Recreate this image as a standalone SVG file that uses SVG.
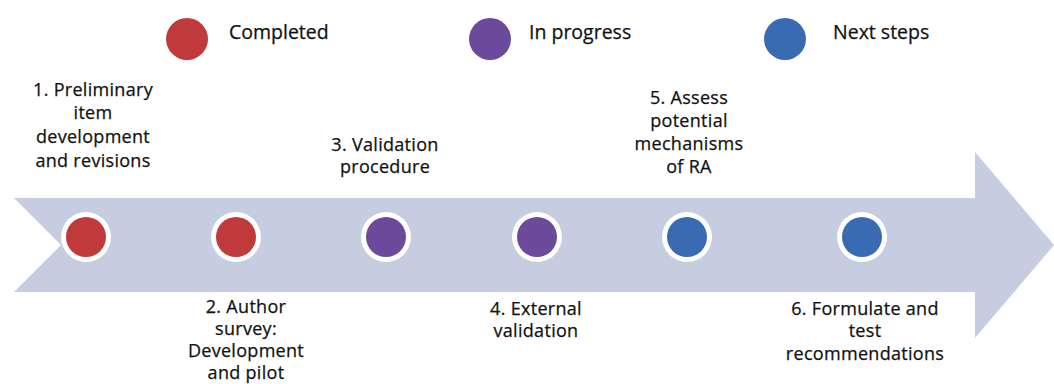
<svg xmlns="http://www.w3.org/2000/svg" width="1054" height="384" viewBox="0 0 1054 384">
  <style>
    .lbl { font-family: "Open Sans", "Liberation Sans", sans-serif; font-size: 18px; letter-spacing: 0.3px; fill: #111111; stroke: #111111; stroke-width: 0.25; text-anchor: middle; }
    .leg { font-family: "Open Sans", "Liberation Sans", sans-serif; font-size: 19.5px; fill: #111111; stroke: #111111; stroke-width: 0.25; }
    .ring { fill: #ffffff; }
    .done { fill: #c0393b; }
    .prog { fill: #6b4a9b; }
    .next { fill: #396bb3; }
  </style>
  <rect width="1054" height="384" fill="#ffffff"/>

  <!-- timeline arrow -->
  <g id="timeline">
    <path d="M14,198 L975,198 L975,152 L1054,245 L975,338 L975,292 L14,292 L61,245 Z" fill="#c7cde1"/>
  </g>

  <!-- legend -->
  <g id="legend">
    <g id="legend-completed">
      <circle class="done" cx="187" cy="39" r="21"/>
      <text class="leg" x="229" y="39">Completed</text>
    </g>
    <g id="legend-progress">
      <circle class="prog" cx="490" cy="39" r="21"/>
      <text class="leg" x="529" y="39">In progress</text>
    </g>
    <g id="legend-next">
      <circle class="next" cx="785" cy="39" r="21"/>
      <text class="leg" x="833" y="39">Next steps</text>
    </g>
  </g>

  <!-- milestones -->
  <g id="step1">
    <circle class="ring" cx="86" cy="237" r="25"/>
    <circle class="done" cx="86" cy="237" r="20"/>
    <text class="lbl" x="93" y="96">1. Preliminary</text>
    <text class="lbl" x="93" y="119">item</text>
    <text class="lbl" x="93" y="143">development</text>
    <text class="lbl" x="93" y="167">and revisions</text>
  </g>
  <g id="step2">
    <circle class="ring" cx="236" cy="237" r="25"/>
    <circle class="done" cx="236" cy="237" r="20"/>
    <text class="lbl" x="246" y="313">2. Author</text>
    <text class="lbl" x="246" y="335">survey:</text>
    <text class="lbl" x="246" y="357">Development</text>
    <text class="lbl" x="246" y="379">and pilot</text>
  </g>
  <g id="step3">
    <circle class="ring" cx="386" cy="237" r="25"/>
    <circle class="prog" cx="386" cy="237" r="20"/>
    <text class="lbl" x="385" y="151">3. Validation</text>
    <text class="lbl" x="385" y="173">procedure</text>
  </g>
  <g id="step4">
    <circle class="ring" cx="537" cy="237" r="25"/>
    <circle class="prog" cx="537" cy="237" r="20"/>
    <text class="lbl" x="536" y="315">4. External</text>
    <text class="lbl" x="536" y="337">validation</text>
  </g>
  <g id="step5">
    <circle class="ring" cx="687" cy="237" r="25"/>
    <circle class="next" cx="687" cy="237" r="20"/>
    <text class="lbl" x="689" y="104">5. Assess</text>
    <text class="lbl" x="689" y="127">potential</text>
    <text class="lbl" x="689" y="150">mechanisms</text>
    <text class="lbl" x="689" y="173">of RA</text>
  </g>
  <g id="step6">
    <circle class="ring" cx="862" cy="237" r="25"/>
    <circle class="next" cx="862" cy="237" r="20"/>
    <text class="lbl" x="865" y="315">6. Formulate and</text>
    <text class="lbl" x="865" y="337">test</text>
    <text class="lbl" x="865" y="360">recommendations</text>
  </g>

  <g id="connectors"></g>
</svg>
